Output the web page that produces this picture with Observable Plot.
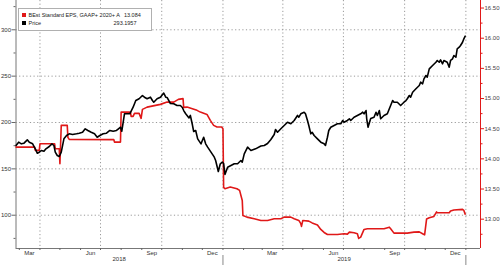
<!DOCTYPE html>
<html><head><meta charset="utf-8">
<script src="https://cdn.jsdelivr.net/npm/d3@7"></script>
<script src="https://cdn.jsdelivr.net/npm/@observablehq/plot@0.6"></script>
<style>
body{margin:0;background:#fff;font-family:"Liberation Sans",Arial,sans-serif;}
#wrap{position:relative;width:500px;height:265px;}
#legend{position:absolute;left:17.5px;top:7.5px;width:134px;height:23.5px;border:1px solid #b0b0b0;background:#fff;box-sizing:border-box;font-size:5.5px;color:#222;padding:2.5px 14px 0 3px;}
#legend .row{display:flex;align-items:center;height:8px;}
#legend .sw{width:4.5px;height:4.5px;margin-right:2.5px;flex:none;}
#legend .lab{flex:1;white-space:nowrap;}
#legend .val{white-space:nowrap;margin-left:4px;}
</style></head>
<body>
<div id="wrap"><div id="chart"></div><div id="legend"></div></div>
<script>
// ---- data ----
const priceSeries = [
["2018-02-24",175.2],["2018-02-28",178.8],["2018-03-04",177.0],["2018-03-08",177.7],["2018-03-13",181.3],["2018-03-16",178.8],["2018-03-21",177.0],["2018-03-25",171.6],["2018-03-28",166.9],["2018-03-31",168.0],
["2018-04-03",169.8],["2018-04-07",169.0],["2018-04-10",171.6],["2018-04-15",174.1],["2018-04-19",177.0],["2018-04-22",175.2],["2018-04-24",168.0],["2018-04-27",164.4],["2018-04-30",163.3],["2018-05-03",168.0],
["2018-05-07",182.4],["2018-05-11",186.0],["2018-05-15",187.8],["2018-05-20",187.1],["2018-05-26",187.8],["2018-05-30",188.5],["2018-06-04",189.5],["2018-06-08",193.2],["2018-06-12",191.4],["2018-06-17",189.5],
["2018-06-22",187.8],["2018-06-26",184.1],["2018-06-30",186.0],["2018-07-05",187.8],["2018-07-10",188.5],["2018-07-15",191.4],["2018-07-20",190.6],["2018-07-25",191.4],["2018-07-28",193.2],["2018-07-31",194.9],
["2018-08-02",190.6],["2018-08-06",209.4],["2018-08-14",209.4],["2018-08-19",216.5],["2018-08-23",223.7],["2018-08-28",225.6],["2018-09-02",229.1],["2018-09-05",227.3],["2018-09-09",225.6],["2018-09-14",227.3],
["2018-09-17",223.7],["2018-09-19",221.9],["2018-09-24",225.6],["2018-09-29",227.3],["2018-10-04",231.8],["2018-10-07",227.3],["2018-10-09",227.0],["2018-10-14",220.5],["2018-10-19",220.2],["2018-10-24",218.3],
["2018-10-29",218.3],["2018-11-01",216.2],["2018-11-03",212.9],["2018-11-06",209.4],["2018-11-11",204.9],["2018-11-13",207.6],["2018-11-16",197.8],["2018-11-18",190.3],["2018-11-21",191.4],["2018-11-24",182.4],
["2018-11-29",177.0],["2018-12-01",180.6],["2018-12-03",184.1],["2018-12-06",177.0],["2018-12-09",173.4],["2018-12-14",168.0],["2018-12-19",162.6],["2018-12-21",159.0],["2018-12-25",147.2],["2018-12-28",155.5],
["2018-12-31",157.2],["2019-01-02",155.8],["2019-01-04",143.9],["2019-01-08",151.8],["2019-01-13",153.6],["2019-01-18",155.5],["2019-01-23",155.5],["2019-01-28",159.0],["2019-01-30",157.2],["2019-02-02",166.2],
["2019-02-07",173.4],["2019-02-12",169.8],["2019-02-19",171.6],["2019-02-27",174.7],["2019-03-04",175.2],["2019-03-09",177.4],["2019-03-14",181.7],["2019-03-19",187.1],["2019-03-21",192.5],["2019-03-24",189.5],
["2019-03-29",193.2],["2019-04-03",196.8],["2019-04-08",200.3],["2019-04-13",198.6],["2019-04-18",202.2],["2019-04-23",207.6],["2019-04-25",205.7],["2019-04-28",209.4],["2019-05-03",211.1],["2019-05-05",209.4],
["2019-05-08",202.2],["2019-05-10",196.8],["2019-05-13",187.8],["2019-05-15",189.5],["2019-05-18",186.0],["2019-05-23",182.4],["2019-05-28",178.8],["2019-06-02",177.0],["2019-06-04",175.2],["2019-06-07",184.1],
["2019-06-09",191.4],["2019-06-12",194.9],["2019-06-17",196.8],["2019-06-22",198.6],["2019-06-27",198.6],["2019-06-30",202.2],["2019-07-02",200.3],["2019-07-07",202.2],["2019-07-10",204.0],["2019-07-12",202.2],
["2019-07-17",205.7],["2019-07-22",207.6],["2019-07-27",209.4],["2019-07-30",211.1],["2019-08-01",209.4],["2019-08-04",212.9],["2019-08-05",204.0],["2019-08-07",194.9],["2019-08-11",204.3],["2019-08-16",205.7],
["2019-08-19",211.1],["2019-08-21",207.6],["2019-08-24",212.9],["2019-08-26",204.0],["2019-08-31",207.6],["2019-09-05",209.4],["2019-09-08",214.8],["2019-09-13",223.7],["2019-09-15",221.9],["2019-09-20",221.9],
["2019-09-25",218.3],["2019-09-30",221.9],["2019-10-03",223.7],["2019-10-05",225.6],["2019-10-08",229.1],["2019-10-10",227.3],["2019-10-13",232.7],["2019-10-18",236.4],["2019-10-23",239.9],["2019-10-25",243.5],
["2019-10-28",241.7],["2019-10-30",247.1],["2019-11-02",250.7],["2019-11-04",248.9],["2019-11-07",257.9],["2019-11-12",261.5],["2019-11-17",265.0],["2019-11-19",266.9],["2019-11-22",265.0],["2019-11-24",267.6],
["2019-11-27",263.3],["2019-11-29",266.9],["2019-12-04",265.0],["2019-12-07",259.7],["2019-12-09",266.9],["2019-12-12",268.7],["2019-12-14",272.3],["2019-12-17",270.4],["2019-12-19",279.5],["2019-12-22",281.2],
["2019-12-24",283.1],["2019-12-27",286.6],["2019-12-29",290.3],["2019-12-31",293.1957]
];
const epsSeries = [
["2018-02-24",14.195],["2018-03-24",14.195],["2018-03-25",14.14],["2018-03-31",14.14],["2018-04-01",14.251],["2018-04-23",14.251],["2018-04-24",14.168],["2018-04-30",14.168],["2018-05-01",13.92],["2018-05-03",14.555],
["2018-05-12",14.555],["2018-05-13",14.356],["2018-05-15",14.323],["2018-07-21",14.318],["2018-07-22",14.278],["2018-07-31",14.278],["2018-08-01",14.775],["2018-08-15",14.775],["2018-08-16",14.704],["2018-08-19",14.704],
["2018-08-21",14.754],["2018-08-28",14.754],["2018-08-31",14.671],["2018-09-02",14.82],["2018-09-09",14.858],["2018-09-29",14.903],["2018-10-09",14.941],["2018-10-19",14.941],["2018-10-26",14.986],["2018-11-02",14.998],
["2018-11-03",14.853],["2018-11-08",14.858],["2018-11-16",14.832],["2018-11-23",14.804],["2018-11-28",14.775],["2018-12-08",14.737],["2018-12-13",14.638],["2018-12-18",14.555],["2018-12-23",14.527],["2018-12-30",14.527],
["2019-01-01",14.5],["2019-01-02",13.527],["2019-01-04",13.505],["2019-01-12",13.532],["2019-01-22",13.505],["2019-01-26",13.477],["2019-01-30",13.311],["2019-01-31",13.062],["2019-02-06",13.034],["2019-02-17",13.008],
["2019-02-27",12.979],["2019-03-09",12.979],["2019-03-19",13.008],["2019-03-29",13.008],["2019-04-03",13.034],["2019-04-13",13.034],["2019-04-18",13.008],["2019-04-25",12.979],["2019-04-28",12.925],["2019-04-29",12.88],
["2019-05-01",12.979],["2019-05-10",12.968],["2019-05-15",12.938],["2019-05-23",12.905],["2019-05-28",12.83],["2019-06-02",12.78],["2019-06-07",12.747],["2019-06-22",12.747],["2019-07-02",12.759],["2019-07-07",12.752],
["2019-07-10",12.785],["2019-07-17",12.775],["2019-07-22",12.759],["2019-07-24",12.681],["2019-07-27",12.702],["2019-08-01",12.83],["2019-08-06",12.842],["2019-08-31",12.842],["2019-09-08",12.868],["2019-09-10",12.842],
["2019-09-15",12.769],["2019-10-05",12.769],["2019-10-15",12.785],["2019-10-23",12.789],["2019-10-28",12.759],["2019-10-31",12.739],["2019-11-03",13.004],["2019-11-07",13.024],["2019-11-14",13.046],["2019-11-18",13.12],
["2019-11-19",13.107],["2019-12-07",13.107],["2019-12-09",13.137],["2019-12-14",13.153],["2019-12-27",13.162],["2019-12-29",13.145],["2019-12-31",13.084]
];
const seriesNames = ["BEst Standard EPS, GAAP+ 2020+ A", "Price"];
const lastValues = ["13.084", "293.1957"];
const xDomainDates = ["2018-02-24", "2020-01-23"];
const priceAxisDomain = [64.1, 331.6];
const epsAxisDomain = [12.514, 16.625];
const leftTicks = [100, 150, 200, 250, 300];
const leftMinorTicks = [75, 125, 175, 225, 275, 325];
const rightTicks = [13, 13.5, 14, 14.5, 15, 15.5, 16, 16.5];
const rightMinorTicks = [12.75, 13.25, 13.75, 14.25, 14.75, 15.25, 15.75, 16.25];
const monthLabelDates = ["2018-03-16","2018-06-16","2018-09-16","2018-12-16","2019-03-16","2019-06-16","2019-09-16","2019-12-16"];
const quarterGridDates = ["2018-04-01","2018-07-01","2018-10-01","2019-01-01","2019-04-01","2019-07-01","2019-10-01","2020-01-01"];
const yearBoundaryDates = ["2019-01-01", "2020-01-01"];
const yearLabels = [{date: "2018-07-29", label: "2018"}, {date: "2019-07-02", label: "2019"}];

// ---- build ----
const RED = "#e01818";
const parse = d3.utcParse("%Y-%m-%d");
const price = priceSeries.map(([d, v]) => ({date: parse(d), value: v}));
const eps = epsSeries.map(([d, v]) => ({date: parse(d), value: v}));
const xDomain = xDomainDates.map(parse);
const epsToY = d3.scaleLinear(epsAxisDomain, priceAxisDomain);
const monthStarts = d3.utcMonth.range(xDomain[0], xDomain[1]);

const chart = Plot.plot({
  width: 500, height: 265,
  marginLeft: 15.5, marginRight: 20, marginTop: 0, marginBottom: 17,
  style: {fontFamily: "Liberation Sans, Arial, sans-serif", fontSize: "6px", background: "white", color: "#333"},
  x: {type: "utc", domain: xDomain, label: null},
  y: {domain: priceAxisDomain, label: null},
  marks: [
    Plot.gridX(quarterGridDates.map(parse), {stroke: "#9a9a9a", strokeOpacity: 1, strokeDasharray: "1.2,2.4"}),
    Plot.gridY(leftTicks, {stroke: "#9a9a9a", strokeOpacity: 1, strokeDasharray: "1.2,2.4"}),
    Plot.ruleX([xDomain[0]], {stroke: "#777"}),
    Plot.ruleY([priceAxisDomain[0]], {stroke: "#777"}),
    Plot.ruleX([xDomain[1]], {stroke: RED}),
    Plot.axisY(leftTicks, {anchor: "left", label: null, tickSize: 4, tickPadding: 1, stroke: "#666", fill: "#333", tickFormat: d => String(d)}),
    Plot.axisY(leftMinorTicks, {anchor: "left", label: null, tickSize: 2, stroke: "#666", tickFormat: () => ""}),
    Plot.axisY(rightTicks.map(v => epsToY(v)), {anchor: "right", label: null, tickSize: 3, tickPadding: 1, stroke: RED, fill: "#444", tickFormat: v => epsToY.invert(v).toFixed(2)}),
    Plot.axisY(rightMinorTicks.map(v => epsToY(v)), {anchor: "right", label: null, tickSize: 1.5, stroke: RED, tickFormat: () => ""}),
    Plot.axisX(monthStarts, {anchor: "bottom", label: null, tickSize: 2, stroke: "#666", tickFormat: () => ""}),
    Plot.axisX(monthLabelDates.map(parse), {anchor: "bottom", label: null, tickSize: 0, tickPadding: 2, fill: "#333", tickFormat: d3.utcFormat("%b")}),
    Plot.axisX(yearBoundaryDates.map(parse), {anchor: "bottom", label: null, tickSize: 10, dy: 7, stroke: "#888", tickFormat: () => ""}),
    Plot.text(yearLabels, {x: d => parse(d.date), text: "label", frameAnchor: "bottom", dy: 12, fill: "#333"}),
    Plot.line(eps, {x: "date", y: d => epsToY(d.value), stroke: RED, strokeWidth: 1.6}),
    Plot.line(price, {x: "date", y: "value", stroke: "#000", strokeWidth: 1.6})
  ]
});
document.getElementById("chart").appendChild(chart);

const legend = document.getElementById("legend");
const colors = [RED, "#000"];
seriesNames.forEach((name, i) => {
  const row = document.createElement("div");
  row.className = "row";
  row.innerHTML = `<span class="sw" style="background:${colors[i]}"></span><span class="lab"></span><span class="val"></span>`;
  row.querySelector(".lab").textContent = name;
  row.querySelector(".val").textContent = lastValues[i];
  legend.appendChild(row);
});
</script>
</body></html>
